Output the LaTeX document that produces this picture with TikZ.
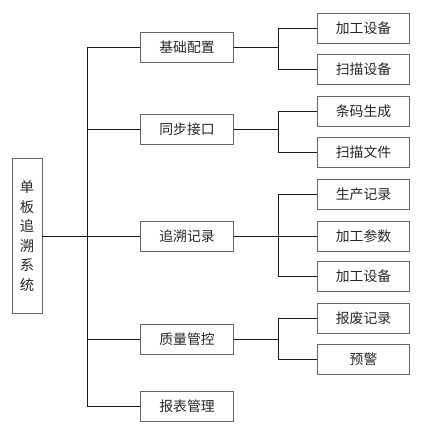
\documentclass[tikz,border=0pt]{standalone}
\usepackage{fontspec}
\setmainfont{Noto Sans CJK SC}
\usetikzlibrary{calc}
\tikzset{
  box/.style={draw=black!60, line width=0.8pt, text=black!85, inner sep=0pt,
    font=\fontsize{11.8}{14}\selectfont, minimum width=2.77cm, minimum height=0.9cm},
  rootbox/.style={box, minimum width=0.9cm, minimum height=4.65cm, align=center,
    font=\fontsize{12.2}{16.6}\selectfont},
  link/.style={draw=black!90, line width=0.6pt}
}

\begin{document}
\begin{tikzpicture}[x=0.03cm, y=-0.03cm]
			%%%%% START %%%%%
			\useasboundingbox (0, 0) rectangle (426, 433);
			
			\node[rootbox] (root) at (27, 236) {单\\板\\追\\溯\\系\\统};
			
			\node[box] (jichu) at (187, 47.5) {基础配置};
			\node[box] (tongbu) at (187, 129) {同步接口};
			\node[box] (zhuisu) at (187, 236) {追溯记录};
			\node[box] (zhiliang) at (187, 339) {质量管控};
			\node[box] (baobiao) at (187, 406) {报表管理};
			
			\node[box] (jgsb) at (363.5, 28) {加工设备};
			\node[box] (smsb) at (363.5, 69.5) {扫描设备};
			\node[box] (tmsc) at (363.5, 111) {条码生成};
			\node[box] (smwj) at (363.5, 152) {扫描文件};
			\node[box] (scjl) at (363.5, 194) {生产记录};
			\node[box] (jgcs) at (363.5, 236) {加工参数};
			\node[box] (jgsb2) at (363.5, 276) {加工设备};
			\node[box] (bfjl) at (363.5, 318) {报废记录};
			\node[box] (yujing) at (363.5, 359) {预警};
			
			\coordinate (trunk) at (87, 236);
			\coordinate (fork) at (278, 236);
			
			% root to second level
			\draw[link] (root.east) -- (trunk);
			\draw[link] (jichu.west -| trunk) -- (baobiao.west -| trunk);
			\foreach \n in {jichu, tongbu, zhuisu, zhiliang, baobiao}
				\draw[link] (\n.west -| trunk) -- (\n.west);
			
			% second level to third level
			\draw[link] (jichu.east) -- (jichu.east -| fork);
			\draw[link] (jgsb.west) -| (fork |- smsb.west) -- (smsb.west);
			\draw[link] (tongbu.east) -- (tongbu.east -| fork);
			\draw[link] (tmsc.west) -| (fork |- smwj.west) -- (smwj.west);
			\draw[link] (zhuisu.east) -- (jgcs.west);
			\draw[link] (scjl.west) -| (fork |- jgsb2.west) -- (jgsb2.west);
			\draw[link] (zhiliang.east) -- (zhiliang.east -| fork);
			\draw[link] (bfjl.west) -| (fork |- yujing.west) -- (yujing.west);
			
			%%%%% END %%%%%
\end{tikzpicture}
\end{document}
